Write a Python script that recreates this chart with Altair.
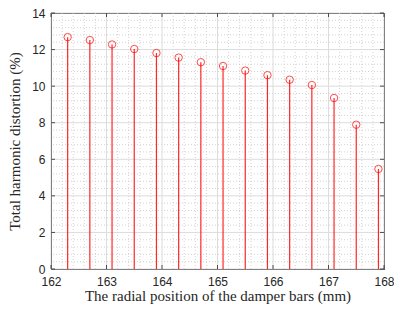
import altair as alt
import pandas as pd
import numpy as np

positions = [162.3, 162.7, 163.1, 163.5, 163.9, 164.3, 164.7, 165.1, 165.5, 165.9, 166.3, 166.7, 167.1, 167.5, 167.9]
thd = [12.68, 12.52, 12.28, 12.03, 11.81, 11.56, 11.31, 11.10, 10.85, 10.60, 10.35, 10.06, 9.35, 7.89, 5.47]

x_ticks = [162, 163, 164, 165, 166, 167, 168]
y_ticks = [0, 2, 4, 6, 8, 10, 12, 14]
x_minor = [round(v, 1) for v in np.arange(162.2, 168.0, 0.2) if abs(v - round(v)) > 1e-6]
y_minor = [round(v, 1) for v in np.arange(0.4, 14.0, 0.4) if abs(v / 2 - round(v / 2)) > 1e-6]

df = pd.DataFrame({"pos": positions, "thd": thd})
xs = alt.Scale(domain=[162, 168], nice=False, zero=False)
ys = alt.Scale(domain=[0, 14], nice=False)

ink = "#262626"
red = "#ff0000"
W, H = 333, 256

x_axis = alt.Axis(values=x_ticks, title="The radial position of the damper bars (mm)",
                  grid=False, ticks=False, domain=False, labelPadding=7,
                  labelOverlap=False, labelFlush=False, format="d", titlePadding=1)
y_axis = alt.Axis(values=y_ticks, title="Total harmonic distortion (%)",
                  grid=False, ticks=False, domain=False, labelPadding=6,
                  labelOverlap=False, labelFlush=False, format="d", titlePadding=9)

def xq(field):
    return alt.X(field, scale=xs, axis=x_axis)

def yq(field):
    return alt.Y(field, scale=ys, axis=y_axis)

xminor = alt.Chart(pd.DataFrame({"v": x_minor})).mark_rule(
    color="#c8c8c8", strokeDash=[1, 2], strokeWidth=0.8
).encode(x=xq("v:Q"))
yminor = alt.Chart(pd.DataFrame({"v": y_minor})).mark_rule(
    color="#c8c8c8", strokeDash=[1, 2], strokeWidth=0.8
).encode(y=yq("v:Q"))

xmajor = alt.Chart(pd.DataFrame({"v": x_ticks})).mark_rule(
    color="#dcdcdc", strokeWidth=1
).encode(x=xq("v:Q"))
ymajor = alt.Chart(pd.DataFrame({"v": y_ticks})).mark_rule(
    color="#dcdcdc", strokeWidth=1
).encode(y=yq("v:Q"))

stems = alt.Chart(df).mark_rule(color=red, strokeWidth=1.2, opacity=0.85).encode(
    x=xq("pos:Q"), y=yq("thd:Q"), y2=alt.datum(0),
)
points = alt.Chart(df).mark_point(
    shape="circle", filled=False, color=red, size=55, strokeWidth=1
).encode(x=xq("pos:Q"), y=yq("thd:Q"))

tick_len = 4
xt = pd.DataFrame({"v": x_ticks})
yt = pd.DataFrame({"v": y_ticks})
bottom_ticks = alt.Chart(xt).mark_rule(color=ink, strokeWidth=0.8).encode(
    x=xq("v:Q"), y=alt.value(H), y2=alt.value(H - tick_len))
top_ticks = alt.Chart(xt).mark_rule(color=ink, strokeWidth=0.8).encode(
    x=xq("v:Q"), y=alt.value(0), y2=alt.value(tick_len))
left_ticks = alt.Chart(yt).mark_rule(color=ink, strokeWidth=0.8).encode(
    y=yq("v:Q"), x=alt.value(0), x2=alt.value(tick_len))
right_ticks = alt.Chart(yt).mark_rule(color=ink, strokeWidth=0.8).encode(
    y=yq("v:Q"), x=alt.value(W), x2=alt.value(W - tick_len))

chart = alt.layer(
    xminor, yminor, xmajor, ymajor, stems, points,
    bottom_ticks, top_ticks, left_ticks, right_ticks
).properties(
    width=W, height=H,
    autosize=alt.AutoSizeParams(type="none"),
    padding={"left": 43, "top": 5, "right": 10, "bottom": 35},
).configure_view(
    stroke=ink, strokeWidth=1
).configure_axis(
    labelFont="Liberation Sans", labelFontSize=12, labelColor=ink,
    titleFont="Liberation Serif", titleFontSize=15, titleFontWeight="normal",
    titleColor=ink, labelOverlap=False,
)

chart.save("out.html", embed_options={"renderer": "svg", "actions": False})
